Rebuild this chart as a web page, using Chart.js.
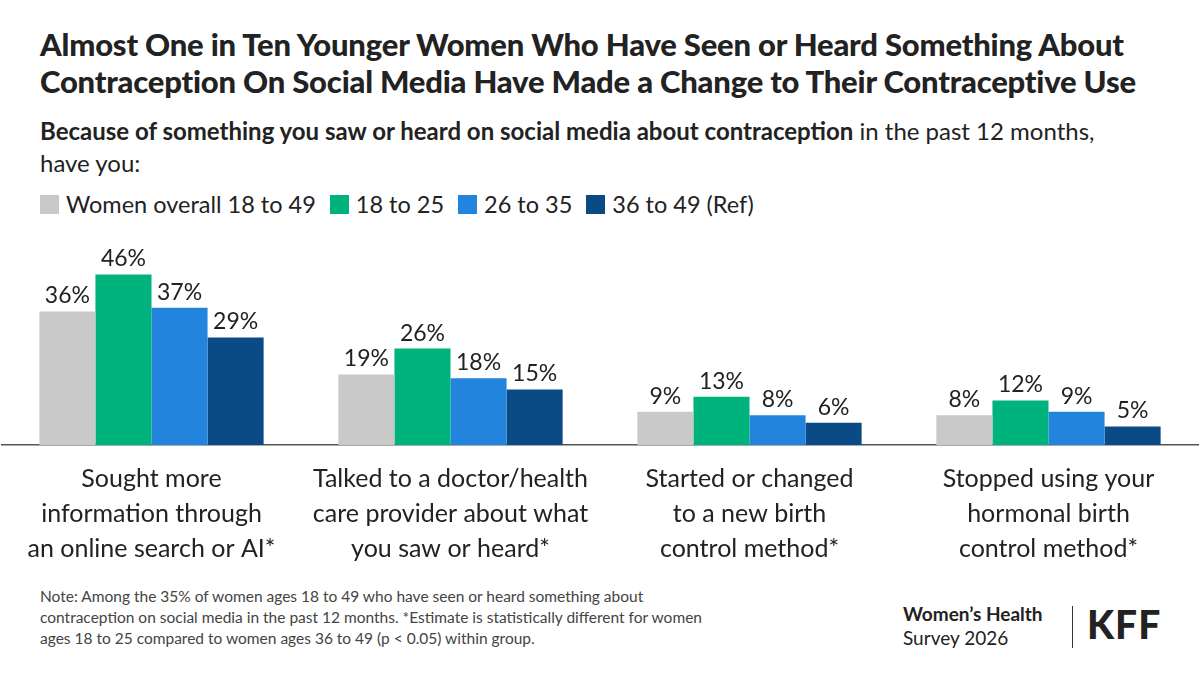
<!DOCTYPE html><html><head><meta charset="utf-8">
<script src="https://cdn.jsdelivr.net/npm/chart.js@4"></script>
<style>
body{margin:0;width:1200px;height:675px;background:#fff;font-family:Lato,"Noto Sans",sans-serif;color:#222;position:relative;overflow:hidden}
#t{position:absolute;left:40px;top:26px;font-size:31px;font-weight:900;line-height:37px;color:#222;letter-spacing:-0.2px}
#s{position:absolute;left:40px;top:115px;font-size:24px;line-height:32px;color:#222}
#lg{position:absolute;left:40px;top:190px;font-size:23.5px;display:flex;gap:14px;align-items:center}
#lg span{display:inline-flex;align-items:center}
#lg i{display:inline-block;width:19px;height:19px;margin-right:7px}
#n{position:absolute;left:40px;top:586px;font-size:15.5px;line-height:21px;color:#444;width:690px}
#w{position:absolute;left:903px;top:602px;font-size:19px;line-height:24px}
#bar{position:absolute;left:1072px;top:606px;width:1px;height:42px;background:#333}
#k{position:absolute;left:1087px;top:601px;font-size:39px;font-weight:900;letter-spacing:1px}
#c{position:absolute;left:0;top:230px}
</style></head><body>
<div id="t">Almost One in Ten Younger Women Who Have Seen or Heard Something About<br>Contraception On Social Media Have Made a Change to Their Contraceptive Use</div>
<div id="s"><b>Because of something you saw or heard on social media about contraception</b> in the past 12 months,<br>have you:</div>
<div id="lg"></div>
<div id="c"><canvas id="cv" width="1200" height="352"></canvas></div>
<div id="n">Note: Among the 35% of women ages 18 to 49 who have seen or heard something about contraception on social media in the past 12 months. *Estimate is statistically different for women ages 18 to 25 compared to women ages 36 to 49 (p &lt; 0.05) within group.</div>
<div id="w"><b>Women’s Health</b><br>Survey 2026</div><div id="bar"></div><div id="k">KFF</div>
<script>
const categories=[["Sought more","information through","an online search or AI*"],["Talked to a doctor/health","care provider about what","you saw or heard*"],["Started or changed","to a new birth","control method*"],["Stopped using your","hormonal birth","control method*"]];
const seriesNames=["Women overall 18 to 49","18 to 25","26 to 35","36 to 49 (Ref)"];
const overall=[36,19,9,8];
const age18_25=[46,26,13,12];
const age26_35=[37,18,8,9];
const age36_49=[29,15,6,5];
const colors=["#c9c9c9","#00b27c","#2284dc","#0a4a85"];
const lg=document.getElementById('lg');
seriesNames.forEach((n,i)=>{lg.innerHTML+=`<span><i style="background:${colors[i]}"></i>${n}</span>`});
const labelPlugin={id:'lbl',afterDatasetsDraw(ch){const c=ch.ctx;c.save();c.font='23px Lato, "Noto Sans"';c.fillStyle='#222';c.textAlign='center';c.textBaseline='bottom';
ch.data.datasets.forEach((d,di)=>{ch.getDatasetMeta(di).data.forEach((b,i)=>{c.fillText(d.data[i]+'%',b.x,b.y-4)})});c.restore();}};
new Chart(document.getElementById('cv'),{type:'bar',
data:{labels:categories,datasets:[overall,age18_25,age26_35,age36_49].map((d,i)=>({label:seriesNames[i],data:d,backgroundColor:colors[i],categoryPercentage:0.75,barPercentage:1}))},
options:{responsive:false,animation:false,layout:{padding:{left:2,right:2,top:0}},
plugins:{legend:{display:false},tooltip:{enabled:false}},
scales:{y:{min:0,max:58,display:false},
x:{grid:{display:false,drawTicks:false},border:{display:true,color:'#555',width:1.5},ticks:{color:'#222',padding:16,font:{size:25,family:'Lato, "Noto Sans"',lineHeight:1.4},maxRotation:0}}}},
plugins:[labelPlugin]});
</script></body></html>
